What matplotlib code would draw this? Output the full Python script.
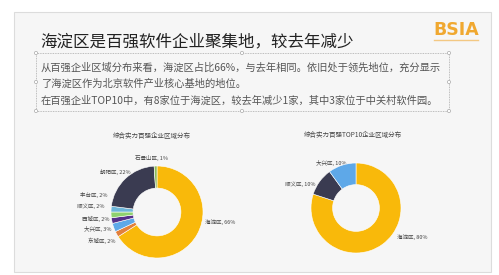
import matplotlib.pyplot as plt
from matplotlib.patches import Rectangle, Circle

plt.rcParams['font.family'] = ['Noto Sans CJK SC', 'DejaVu Sans']

# data
left_labels = ['海淀区', '东城区', '大兴区', '西城区', '顺义区', '丰台区', '朝阳区', '石景山区']
left_values = [66, 2, 3, 2, 2, 2, 22, 1]
left_colors = ['#F9B90A', '#E2803C', '#5EA8E8', '#55308A', '#8ED06E', '#6DB5D8', '#3A3B51', '#8DBB58']

right_labels = ['海淀区', '顺义区', '大兴区']
right_values = [80, 10, 10]
right_colors = ['#F9B90A', '#3A3B51', '#5EA8E8']

title = '海淀区是百强软件企业聚集地，较去年减少'
body_lines = [
    '从百强企业区域分布来看，海淀区占比66%，与去年相同。依旧处于领先地位，充分显示',
    '了海淀区作为北京软件产业核心基地的地位。',
    '在百强企业TOP10中，有8家位于海淀区，较去年减少1家，其中3家位于中关村软件园。',
]
left_title = '综合实力百强企业区域分布'
right_title = '综合实力百强TOP10企业区域分布'

W, H = 499, 275
fig = plt.figure(figsize=(W / 100, H / 100), dpi=100)
fig.patch.set_facecolor('white')

# overlay in pixel coordinates
bg = fig.add_axes([0, 0, 1, 1])
bg.set_xlim(0, W)
bg.set_ylim(H, 0)
bg.axis('off')

bg.add_patch(Rectangle((14, 12), 477, 260, facecolor='#f6f6f6', edgecolor='#dcdcdc', lw=0.8))
bg.text(40, 42, title, fontsize=11.9, color='#222222', va='center', ha='left')
bg.text(456, 30, 'BSIA', fontsize=12.5, fontweight='bold', color='#F0A830',
        family='DejaVu Sans', va='center', ha='center')
bg.plot([434, 478], [39.5, 39.5], color='#F3C883', lw=1)

# dashed text box
bg.add_patch(Rectangle((36, 53), 413, 58, fill=False, edgecolor='#aaaaaa', lw=0.6, ls=(0, (1, 1))))
for hx, hy in [(36, 53), (242, 53), (449, 53), (36, 82), (449, 82), (36, 111), (242, 111), (449, 111)]:
    bg.add_patch(Circle((hx, hy), 1.6, facecolor='white', edgecolor='#aaaaaa', lw=0.5))
for y, line in zip([68, 83.5, 101], body_lines):
    bg.text(41, y, line, fontsize=7.4, color='#555555', va='center', ha='left')

bg.text(152, 136, left_title, fontsize=4.7, color='#444444', ha='center', va='center')
bg.text(353, 135, right_title, fontsize=4.7, color='#444444', ha='center', va='center')


def donut(cx, cy, r, values, colors, names, label_pos):
    ax = fig.add_axes([(cx - r) / W, (H - cy - r) / H, 2 * r / W, 2 * r / H])
    ax.pie(values, colors=colors, startangle=90, counterclock=False, radius=1,
           wedgeprops=dict(width=0.48, edgecolor='white', linewidth=0.4))
    ax.set_xlim(-1, 1)
    ax.set_ylim(-1, 1)
    ax.set_aspect('equal')
    ax.axis('off')
    for name, v, (lx, ly) in zip(names, values, label_pos):
        bg.text(lx, ly, f'{name}, {v}%', fontsize=4, color='#444444', ha='center', va='center')


donut(157, 212, 46, left_values, left_colors, left_labels,
      [(220, 222), (102, 241), (98, 229), (96, 219), (91, 206), (94, 195), (115, 172), (152, 158)])
donut(356, 208, 45, right_values, right_colors, right_labels,
      [(412, 237), (300, 184), (331, 163)])

fig.savefig('out.png', dpi=100)
